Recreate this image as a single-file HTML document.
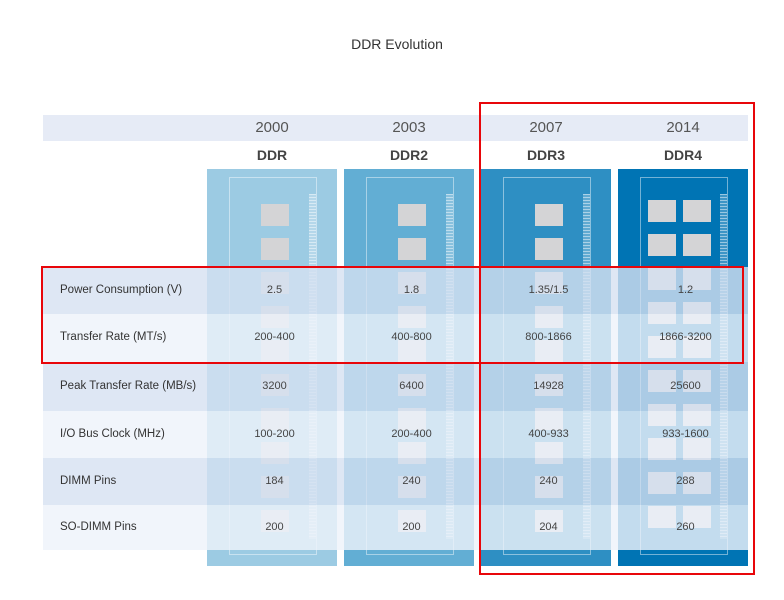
<!DOCTYPE html>
<html><head><meta charset="utf-8"><style>
body{margin:0;background:#fff;font-family:"Liberation Sans",sans-serif}
#c{position:relative;width:784px;height:600px;overflow:hidden}
.a{position:absolute}
.t{position:absolute;color:#444;font-size:11px;text-align:center}
</style></head><body>
<div id="c">
<div class="a" style="left:0;width:794px;top:36px;text-align:center;font-size:14px;color:#333">DDR Evolution</div>
<div class="a" style="left:43px;top:115px;width:705px;height:26px;background:#e6ebf6"></div>
<div id="cols"></div>
<div id="rows"></div>
<div class="a" style="left:479px;top:102px;width:272px;height:469px;border:2px solid #e8060a"></div>
<div class="a" style="left:41px;top:266px;width:699px;height:94px;border:2px solid #e8060a"></div>
</div>
<script>
const years=["2000","2003","2007","2014"];
const gens=["DDR","DDR2","DDR3","DDR4"];
const colColors=["#9ccbe3","#62aed4","#2e8fc3","#0074b4"];
const rowLabels=["Power Consumption (V)","Transfer Rate (MT/s)","Peak Transfer Rate (MB/s)","I/O Bus Clock (MHz)","DIMM Pins","SO-DIMM Pins"];
const ddrVals=["2.5","200-400","3200","100-200","184","200"];
const ddr2Vals=["1.8","400-800","6400","200-400","240","200"];
const ddr3Vals=["1.35/1.5","800-1866","14928","400-933","240","204"];
const ddr4Vals=["1.2","1866-3200","25600","933-1600","288","260"];
const vals=[ddrVals,ddr2Vals,ddr3Vals,ddr4Vals];
const rowTops=[267,314,362,411,458,505,550];
const C=document.getElementById('cols'),R=document.getElementById('rows');
function el(p,cls,st,txt){const d=document.createElement('div');d.className=cls;d.style.cssText=st;if(txt!==undefined)d.textContent=txt;p.appendChild(d);return d;}
gens.forEach((g,i)=>{
 const x=207+i*137;
 let d=el(C,'t','left:'+x+'px;top:119px;width:130px;font-size:15px;color:#555',years[i]);
 
 
 d=el(C,'t','left:'+x+'px;top:147px;width:130px;font-size:14px;font-weight:bold;color:#444',g);
 
 
 const p=el(C,'a','left:'+x+'px;top:169px;width:130px;height:397px;background:'+colColors[i]);
 
 
 el(p,'a','left:22px;top:8px;width:88px;height:378px;border:1px solid rgba(255,255,255,0.45);box-sizing:border-box');
 el(p,'a','left:102px;top:25px;width:7px;height:345px;background:repeating-linear-gradient(#fff 0 1px,rgba(255,255,255,0.4) 1px 3px);opacity:0.6');
 for(let k=0;k<10;k++){
  const y=35+k*34;
  if(i<3) el(p,'a','left:54px;top:'+y+'px;width:28px;height:22px;background:#d4d4d6');
  else {el(p,'a','left:30px;top:'+(y-4)+'px;width:28px;height:22px;background:#d4d4d6');el(p,'a','left:65px;top:'+(y-4)+'px;width:28px;height:22px;background:#d4d4d6');}
 }
});
rowLabels.forEach((lab,r)=>{
 const y=rowTops[r],h=rowTops[r+1]-y;
 const bg=r%2==0?'rgba(214,225,241,0.8)':'rgba(238,243,250,0.82)';
 const row=el(R,'a','left:43px;top:'+y+'px;width:705px;height:'+h+'px;background:'+bg);
 
 
 let d=el(R,'a','left:60px;top:'+(y+h/2-7)+'px;font-size:11.5px;color:#333;white-space:nowrap',lab);
 
 
 vals.forEach((v,i)=>{
  d=el(R,'t','left:'+(207+i*137)+'px;top:'+(y+h/2-7)+'px;width:135px',v[r]);
  
  
 });
});
</script>
</body></html>
